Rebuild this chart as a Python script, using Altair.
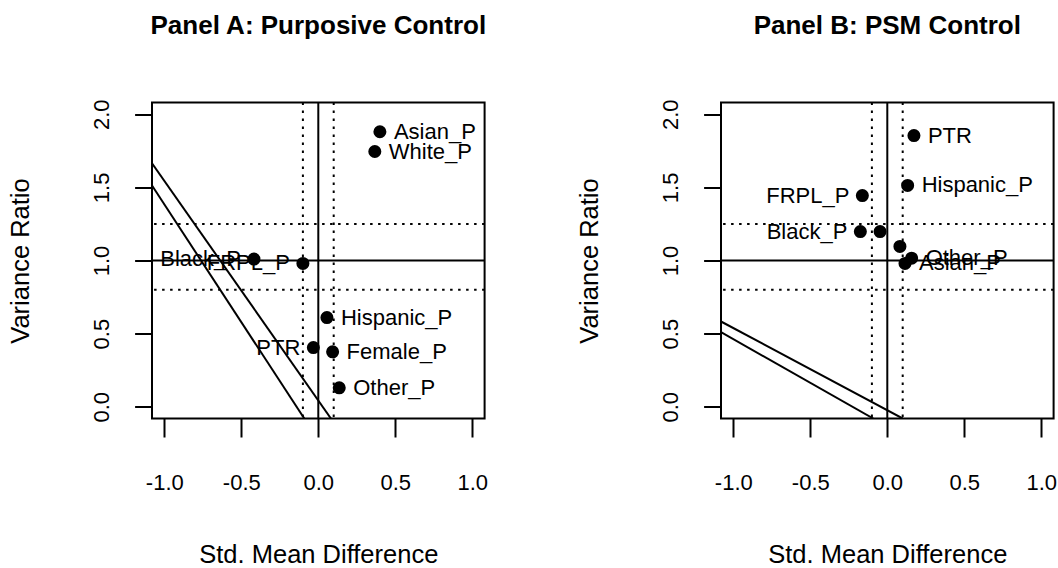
import altair as alt
import pandas as pd

FONT = "Liberation Sans"

# ---------------- Panel A: Purposive Control ----------------
a_names = ["Asian_P", "White_P", "Black_P", "FRPL_P", "Hispanic_P", "PTR", "Female_P", "Other_P"]
a_labels = ["Asian_P", "White_P", "Black_P", "FRPL_P", "Hispanic_P", "PTR", "Female_P", "Other_P"]
a_smd = [0.40, 0.367, -0.418, -0.10, 0.056, -0.032, 0.093, 0.136]
a_vr = [1.88, 1.745, 1.01, 0.98, 0.61, 0.405, 0.376, 0.13]
a_side = ["right", "right", "left", "left", "right", "left", "right", "right"]
# two diagonal reference lines (end points on the plot frame)
a_line_grp = ["l1", "l1", "l2", "l2"]
a_line_x = [-1.08, 0.082, -1.08, -0.091]
a_line_y = [1.665, -0.08, 1.513, -0.08]

# ---------------- Panel B: PSM Control ----------------
b_names = ["PTR", "Hispanic_P", "FRPL_P", "Black_P", "White_P", "Female_P", "Other_P", "Asian_P"]
b_labels = ["PTR", "Hispanic_P", "FRPL_P", "Black_P", "", "", "Other_P", "Asian_P"]
b_smd = [0.173, 0.132, -0.162, -0.175, -0.047, 0.082, 0.158, 0.115]
b_vr = [1.854, 1.513, 1.444, 1.198, 1.198, 1.096, 1.016, 0.98]
b_side = ["right", "right", "left", "left", "right", "right", "right", "right"]
b_line_grp = ["l1", "l1", "l2", "l2"]
b_line_x = [-1.08, 0.10, -1.08, -0.091]
b_line_y = [0.583, -0.08, 0.51, -0.08]

# reference lines (common)
v_solid = [0.0]
v_dotted = [-0.1, 0.1]
h_solid = [1.0]
h_dotted = [0.8, 1.25]

x_ticks = [-1.0, -0.5, 0.0, 0.5, 1.0]
y_ticks = [0.0, 0.5, 1.0, 1.5, 2.0]
x_domain = [-1.08, 1.08]
y_domain = [-0.08, 2.08]

W, H = 332.6, 316

LABEL_EXPR = "(datum.value < 0 ? '-' : '') + format(abs(datum.value), '.1f')"


def panel(title, names, labels, smd, vr, side, lgrp, lx, ly):
    pts = pd.DataFrame({"name": names, "label": labels, "smd": smd, "vr": vr, "side": side})
    lines = pd.DataFrame({"grp": lgrp, "smd": lx, "vr": ly})

    xsc = alt.Scale(domain=x_domain, nice=False, zero=False)
    ysc = alt.Scale(domain=y_domain, nice=False, zero=False)
    xax = alt.Axis(values=x_ticks, labelExpr=LABEL_EXPR, title="Std. Mean Difference",
                   tickSize=18.5, labelPadding=35.7, labelFontSize=22, labelAngle=0,
                   labelBaseline="top", labelFlush=False, labelOverlap=False,
                   titleFontSize=25.5, titlePadding=49)
    yax = alt.Axis(values=y_ticks, labelExpr=LABEL_EXPR, title="Variance Ratio",
                   tickSize=17.4, labelPadding=21, labelFontSize=22, labelAngle=270,
                   labelAlign="center", labelBaseline="bottom", labelFlush=False,
                   labelOverlap=False, titleFontSize=25.5, titlePadding=57)
    X = alt.X("smd:Q", scale=xsc, axis=xax)
    Y = alt.Y("vr:Q", scale=ysc, axis=yax)

    base_pts = alt.Chart(pts)
    points = base_pts.mark_circle(size=170, color="black", opacity=1).encode(x=X, y=Y)
    txt_r = base_pts.transform_filter(alt.datum.side == "right").mark_text(
        align="left", baseline="middle", dx=14, fontSize=22, font=FONT, color="black"
    ).encode(x=X, y=Y, text="label:N")
    txt_l = base_pts.transform_filter(alt.datum.side == "left").mark_text(
        align="right", baseline="middle", dx=-13, fontSize=22, font=FONT, color="black"
    ).encode(x=X, y=Y, text="label:N")

    vs = alt.Chart(pd.DataFrame({"smd": v_solid})).mark_rule(color="black", strokeWidth=2).encode(x=X)
    vd = alt.Chart(pd.DataFrame({"smd": v_dotted})).mark_rule(
        color="black", strokeWidth=2, strokeDash=[2.5, 5.5]).encode(x=X)
    hs = alt.Chart(pd.DataFrame({"vr": h_solid})).mark_rule(color="black", strokeWidth=2).encode(y=Y)
    hd = alt.Chart(pd.DataFrame({"vr": h_dotted})).mark_rule(
        color="black", strokeWidth=2, strokeDash=[2.5, 5.5]).encode(y=Y)

    diag = alt.Chart(lines).mark_line(color="black", strokeWidth=2, clip=True).encode(
        x=X, y=Y, detail="grp:N")

    return alt.layer(vd, hd, vs, hs, diag, points, txt_r, txt_l).properties(
        width=W, height=H,
        title=alt.TitleParams(text=title, font=FONT, fontSize=26, fontWeight="bold",
                              anchor="middle", baseline="alphabetic", offset=39,
                              color="black"),
    )


pa = panel("Panel A: Purposive Control", a_names, a_labels, a_smd, a_vr, a_side,
           a_line_grp, a_line_x, a_line_y)
pb = panel("Panel B: PSM Control", b_names, b_labels, b_smd, b_vr, b_side,
           b_line_grp, b_line_x, b_line_y)

chart = alt.hconcat(pa, pb, spacing=87).properties(
    padding={"left": 7, "top": 11.5, "right": 0, "bottom": 0},
    background="white",
).configure_view(stroke="black", strokeWidth=2).configure_axis(
    grid=False, domain=False, tickColor="black", tickWidth=2,
    labelColor="black", titleColor="black", labelFont=FONT, titleFont=FONT,
    titleFontWeight="normal",
)

chart.save("out.html", embed_options={"renderer": "svg", "actions": False})
